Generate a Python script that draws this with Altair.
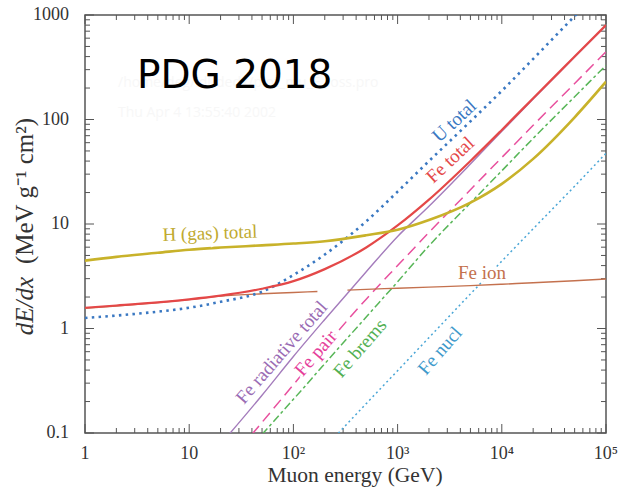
import altair as alt
import pandas as pd

# ---------------- data ----------------
E = [1, 2, 5, 10, 20, 50, 100, 200, 500, 1000, 2000, 5000, 10000, 20000, 50000, 100000]
h_total = [4.46, 4.85, 5.3, 5.68, 5.95, 6.25, 6.5, 6.85, 7.8, 8.8, 10.9, 16.0, 24.2, 42.0, 105.0, 230.0]
fe_total = [1.58, 1.66, 1.78, 1.90, 2.06, 2.40, 2.84, 3.70, 5.96, 9.68, 17.1, 40.1, 79.5, 160.0, 400.0, 800.0]
u_total = [1.26, 1.33, 1.45, 1.58, 1.80, 2.25, 3.25, 5.1, 10.6, 20.4, 40.0, 96.0, 188.0, 380.0, 975.0, 1960.0]

E_ion_a = [1, 2, 5, 10, 20, 50, 100, 170]
fe_ion_a = [1.56, 1.64, 1.77, 1.89, 2.04, 2.15, 2.21, 2.26]
E_ion_b = [330, 500, 1000, 2000, 5000, 10000, 20000, 50000, 100000]
fe_ion_b = [2.33, 2.37, 2.43, 2.49, 2.57, 2.65, 2.74, 2.86, 2.98]

E_rad = [20, 50, 100, 200, 500, 1000, 2000, 5000, 10000, 20000, 50000, 100000]
fe_rad = [0.078, 0.23, 0.54, 1.22, 3.49, 7.6, 14.8, 37.5, 77.0, 157.0, 396.0, 795.0]

E_pair = [40, 100, 200, 500, 1000, 2000, 5000, 10000, 20000, 50000, 100000]
fe_pair = [0.097, 0.29, 0.67, 1.91, 4.0, 8.3, 21.3, 43.3, 88.0, 221.0, 445.0]

E_brems = [50, 100, 200, 500, 1000, 2000, 5000, 10000, 20000, 50000, 100000]
fe_brems = [0.097, 0.21, 0.46, 1.29, 2.8, 6.18, 15.9, 32.3, 66.0, 165.0, 330.0]

E_nucl = [250, 500, 1000, 2000, 5000, 10000, 20000, 50000, 100000]
fe_nucl = [0.092, 0.191, 0.395, 0.818, 2.14, 4.41, 9.0, 23.0, 47.5]

# curve labels: text, energy, dE/dx at label centre
lab_text = ["U total", "Fe total", "H (gas) total", "Fe ion",
            "Fe radiative total", "Fe pair", "Fe brems", "Fe nucl"]
lab_E = [3500, 3200, 15.8, 6460, 77, 164, 435, 2550]
lab_v = [97.0, 41.0, 8.15, 3.40, 0.59, 0.58, 0.646, 0.612]

x_major = [1, 10, 100, 1000, 10000, 100000]
x_labels = ["1", "10", "10²", "10³", "10⁴", "10⁵"]
x_minor = [m * 10 ** k for k in range(5) for m in range(2, 10)]
y_major = [0.1, 1, 10, 100, 1000]
y_labels = ["0.1", "1", "10", "100", "1000"]
y_minor = [round(m * 10.0 ** k, 4) for k in range(-1, 3) for m in range(2, 10)]

x_title = "Muon energy (GeV)"
y_title_a = "dE/dx"
y_title_b = "(MeV g⁻¹ cm²)"
stamp = "PDG 2018"
watermark = ["/home/deg/idl/dedx/plot_mu_E_loss.pro", "Thu Apr  4 13:55:40 2002"]

# ---------------- chart ----------------
W, H = 521, 418
SERIF = "Liberation Serif"
INK = "#333"
xsc = alt.Scale(type="log", domain=[1, 100000], nice=False)
ysc = alt.Scale(type="log", domain=[0.1, 1000], nice=False)
X = lambda f: alt.X(f, scale=xsc, axis=None)
Y = lambda f: alt.Y(f, scale=ysc, axis=None)

xlab = alt.Chart(pd.DataFrame({"E": x_major, "t": x_labels})).mark_text(
    font=SERIF, fontSize=18, color=INK, align="center", baseline="top").encode(
    x=X("E:Q"), y=alt.value(H + 12), text="t:N")

ylab = alt.Chart(pd.DataFrame({"v": y_major, "t": y_labels})).mark_text(
    font=SERIF, fontSize=18, color=INK, align="right", baseline="middle").encode(
    y=Y("v:Q"), x=alt.value(-16), text="t:N")


def line(es, vals, color, width, dash=None):
    kw = dict(color=color, strokeWidth=width, clip=True, interpolate="monotone")
    if dash:
        kw["strokeDash"] = dash
    return alt.Chart(pd.DataFrame({"E": es, "v": vals})).mark_line(**kw).encode(
        x=X("E:Q"), y=Y("v:Q"))


def xticks(vals, length):
    d = pd.DataFrame({"v": vals})
    bot = alt.Chart(d).mark_rule(color="#555", strokeWidth=1).encode(
        x=X("v:Q"), y=alt.value(H), y2=alt.value(H - length))
    top = alt.Chart(d).mark_rule(color="#555", strokeWidth=1).encode(
        x=X("v:Q"), y=alt.value(0), y2=alt.value(length))
    return [bot, top]


def yticks(vals, length):
    d = pd.DataFrame({"v": vals})
    left = alt.Chart(d).mark_rule(color="#555", strokeWidth=1).encode(
        y=Y("v:Q"), x=alt.value(0), x2=alt.value(length))
    right = alt.Chart(d).mark_rule(color="#555", strokeWidth=1).encode(
        y=Y("v:Q"), x=alt.value(W), x2=alt.value(W - length))
    return [left, right]


def label(i, color, angle):
    d = pd.DataFrame({"t": [lab_text[i]], "E": [lab_E[i]], "v": [lab_v[i]]})
    enc = dict(x=X("E:Q"), y=Y("v:Q"), text="t:N")
    halo = alt.Chart(d).mark_text(font=SERIF, fontSize=19, color="white", stroke="white",
                                  strokeWidth=5, angle=angle, align="center",
                                  baseline="middle").encode(**enc)
    txt = alt.Chart(d).mark_text(font=SERIF, fontSize=19, color=color, angle=angle,
                                 align="center", baseline="middle").encode(**enc)
    return [halo, txt]


def free_text(t, x, y, **kw):
    return alt.Chart(pd.DataFrame({"t": [t]})).mark_text(**kw).encode(
        x=alt.value(x), y=alt.value(y), text="t:N")


wm1 = free_text(watermark[0], 33, 68, font="Open Sans", fontSize=14, color="#f7f7f7",
                align="left", baseline="middle")
wm2 = free_text(watermark[1], 33, 98, font="Open Sans", fontSize=14, color="#f7f7f7",
                align="left", baseline="middle")
pdg = free_text(stamp, 52, 72.5, font="DejaVu Sans", fontSize=39, color="#000",
                align="left", baseline="alphabetic")
xtitle = free_text(x_title, 270, H + 49, font=SERIF, fontSize=21.5, color=INK,
                   align="center", baseline="alphabetic")
ytitle_a = free_text(y_title_a, -60, 291, font=SERIF, fontSize=25, fontStyle="italic",
                     color=INK, angle=270, align="center", baseline="middle")
ytitle_b = free_text(y_title_b, -60, 176, font=SERIF, fontSize=25, color=INK, angle=270,
                     align="center", baseline="middle")

layers = [wm1, wm2, xlab, ylab, xtitle]
layers += xticks(x_major, 9) + xticks(x_minor, 5) + yticks(y_major, 9) + yticks(y_minor, 5)
layers += [
    line(E_nucl, fe_nucl, "#4aa6d6", 1.5, [2, 3]),
    line(E_brems, fe_brems, "#58b658", 1.5, [8, 3, 3, 3]),
    line(E_pair, fe_pair, "#e8509e", 1.5, [11, 6]),
    line(E_rad, fe_rad, "#a47cbc", 1.4),
    line(E_ion_a, fe_ion_a, "#c4714e", 1.4),
    line(E_ion_b, fe_ion_b, "#c4714e", 1.4),
    line(E, u_total, "#3a78c2", 2.6, [2.5, 4.3]),
    line(E, fe_total, "#e44848", 2.2),
    line(E, h_total, "#c8b22a", 2.6),
]
layers += (label(0, "#3a78c2", 317) + label(1, "#e44848", 317) + label(2, "#c0aa30", 358)
           + label(3, "#c4714e", 0) + label(4, "#9a6cb4", 311) + label(5, "#e5409a", 311)
           + label(6, "#52b052", 311) + label(7, "#3f9acb", 311))
layers += [pdg, ytitle_a, ytitle_b]

chart = alt.layer(*layers).properties(
    width=W, height=H,
    padding={"left": 85, "top": 15, "right": 14, "bottom": 56},
    autosize=alt.AutoSizeParams(type="none"),
    background="white",
).configure_view(stroke="#555", strokeWidth=1.5)

chart.save("out.html", embed_options={"renderer": "svg", "actions": False})
